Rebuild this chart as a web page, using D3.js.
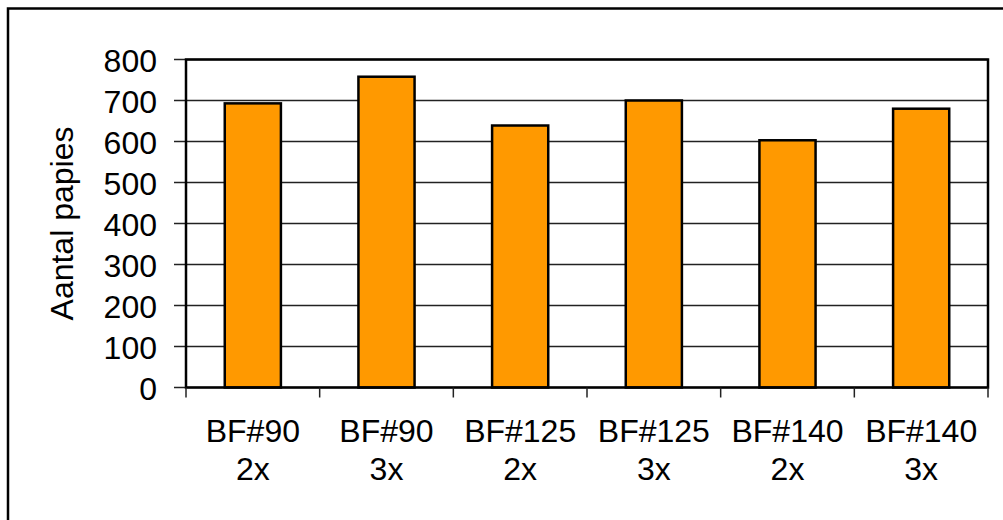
<!DOCTYPE html>
<html>
<head>
<meta charset="utf-8">
<script src="https://cdn.jsdelivr.net/npm/d3@7"></script>
<style>
  html, body { margin: 0; padding: 0; background: #fff; }
  svg { display: block; }
  text { font-family: "Liberation Sans", Arial, sans-serif; fill: #000; }
</style>
</head>
<body>
<svg id="chart" width="1003" height="520"></svg>
<script>
// Categories (two-line labels) and counts
const categories = ["BF#90|2x", "BF#90|3x", "BF#125|2x", "BF#125|3x", "BF#140|2x", "BF#140|3x"];
const values = [693, 758, 639, 700, 603, 680];
const yTicks = [0, 100, 200, 300, 400, 500, 600, 700, 800];
const yTitle = "Aantal papies";

const svg = d3.select("#chart");
const W = 1003, H = 520;
const plot = { left: 186, right: 988, top: 59.5, bottom: 387.5 };
const fontSize = 32;

// Outer frame (runs past the right and bottom edges)
svg.append("rect")
  .attr("x", 8).attr("y", 8.5)
  .attr("width", W + 20).attr("height", H + 20)
  .attr("fill", "#fff").attr("stroke", "#000").attr("stroke-width", 2.5);

const x = d3.scaleBand()
  .domain(categories)
  .range([plot.left, plot.right])
  .paddingInner(0.58)
  .paddingOuter(0.29);

const y = d3.scaleLinear()
  .domain([0, 800])
  .range([plot.bottom, plot.top]);

// Horizontal gridlines with left tick marks
svg.append("g").selectAll("line")
  .data(yTicks)
  .join("line")
  .attr("x1", plot.left - 12).attr("x2", plot.right)
  .attr("y1", d => y(d)).attr("y2", d => y(d))
  .attr("stroke", "#222").attr("stroke-width", 1.5);

// Y tick labels
svg.append("g").selectAll("text")
  .data(yTicks)
  .join("text")
  .attr("x", 157)
  .attr("y", d => y(d))
  .attr("dy", "0.38em")
  .attr("text-anchor", "end")
  .attr("font-size", fontSize)
  .text(d => d);

// Bars
svg.append("g").selectAll("rect")
  .data(values)
  .join("rect")
  .attr("x", (d, i) => x(categories[i]))
  .attr("width", x.bandwidth())
  .attr("y", d => y(d))
  .attr("height", d => y(0) - y(d))
  .attr("fill", "#FF9900")
  .attr("stroke", "#000")
  .attr("stroke-width", 2.5);

// Plot area border
svg.append("rect")
  .attr("x", plot.left).attr("y", plot.top)
  .attr("width", plot.right - plot.left)
  .attr("height", plot.bottom - plot.top)
  .attr("fill", "none").attr("stroke", "#000").attr("stroke-width", 2.5);

// Category separator ticks below the axis
const step = x.step();
const sepIdx = d3.range(categories.length + 1);
svg.append("g").selectAll("line")
  .data(sepIdx)
  .join("line")
  .attr("x1", i => plot.left + i * step).attr("x2", i => plot.left + i * step)
  .attr("y1", plot.bottom).attr("y2", plot.bottom + 10)
  .attr("stroke", "#222").attr("stroke-width", 1.5);

// Category labels (two lines)
const labels = svg.append("g").selectAll("text")
  .data(categories)
  .join("text")
  .attr("text-anchor", "middle")
  .attr("font-size", fontSize);
labels.each(function(d) {
  const cx = x(d) + x.bandwidth() / 2;
  const parts = d.split("|");
  const t = d3.select(this);
  t.append("tspan").attr("x", cx).attr("y", 442).text(parts[0]);
  t.append("tspan").attr("x", cx).attr("y", 480).text(parts[1]);
});

// Y axis title
svg.append("text")
  .attr("transform", `translate(73, ${(plot.top + plot.bottom) / 2}) rotate(-90)`)
  .attr("text-anchor", "middle")
  .attr("font-size", fontSize)
  .text(yTitle);
</script>
</body>
</html>
